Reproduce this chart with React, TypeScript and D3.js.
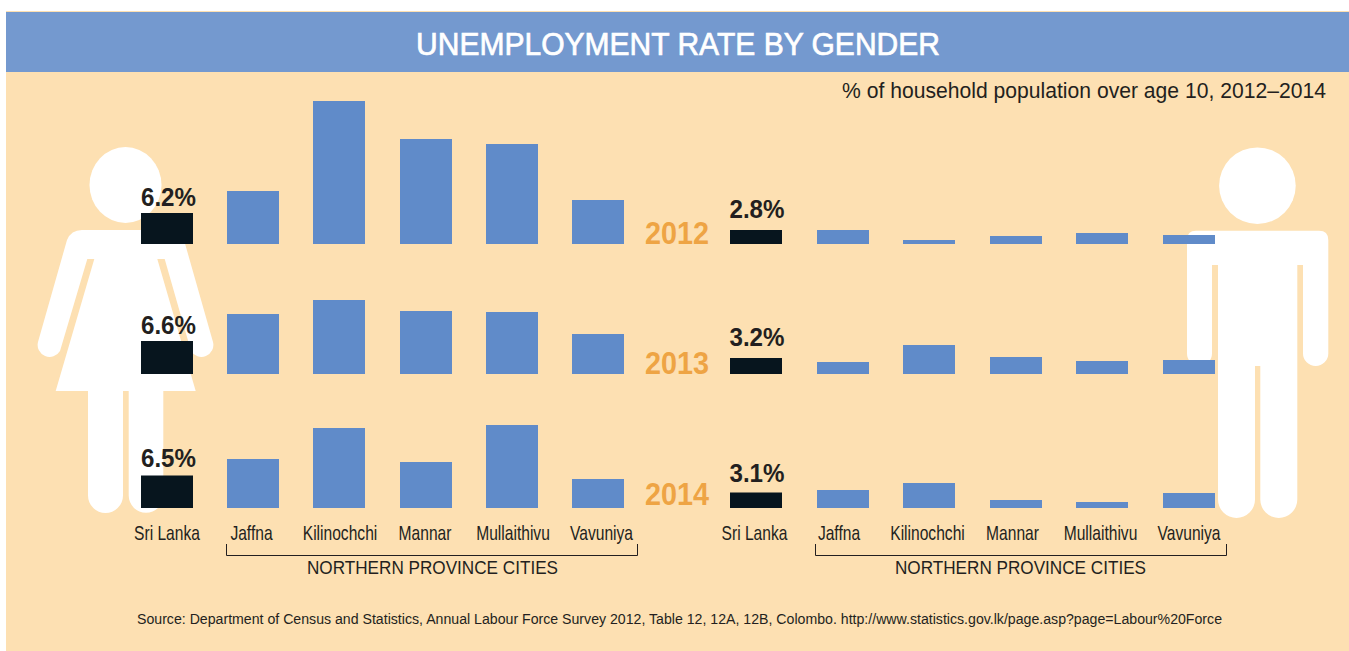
import React from "react";
import * as d3 from "d3";

const years = ["2012", "2013", "2014"];
const places = ["Sri Lanka", "Jaffna", "Kilinochchi", "Mannar", "Mullaithivu", "Vavuniya"];

// Rates in percent, one list per year, in the order of `places`.
const women2012 = [6.2, 10.6, 28.6, 21, 20, 8.8];
const women2013 = [6.6, 12, 14.8, 12.6, 12.4, 8];
const women2014 = [6.5, 9.8, 16, 9.2, 16.6, 5.8];
const men2012 = [2.8, 2.8, 0.8, 1.6, 2.2, 1.8];
const men2013 = [3.2, 2.4, 5.8, 3.4, 2.6, 2.8];
const men2014 = [3.1, 3.6, 5, 1.6, 1.2, 3];

const women = [women2012, women2013, women2014];
const men = [men2012, men2013, men2014];

const SANS = "'Liberation Sans', Arial, sans-serif";
const PANEL = "#FDE0B2";
const HEADER = "#7499CF";
const BAR = "#608BC9";
const NATIONAL = "#07151E";
const YEAR = "#EEA444";
const INK = "#231F20";

const baselines = [244, 374, 508];
const yearBaselines = [244, 374, 505];
const womenValueY = [206, 334, 467];
const menValueY = [218, 346, 482];
const labelNudge = [0, -2.4, -0.8, -2.7, -1.6, 0];

const height = d3.scaleLinear().domain([0, 1]).range([0, 5]);

const womanBody =
  "M82 230H169Q180 230 184 240L213 342A12 12 0 0 1 191 351L164.7 259H157.3L195.7 391H55.7L94.3 259H87.3L60 351A12 12 0 0 1 38 342L67 240Q71 230 82 230Z" +
  "M88 385H123V495.5A17.5 17.5 0 0 1 88 495.5Z" +
  "M128.7 385H163.3V495.5A17.3 17.3 0 0 1 128.7 495.5Z";

const manBody =
  "M1196 230.700H1319Q1328.300 230.700 1328.300 240V353.400A12.650 12.650 0 0 1 1303 353.400V265H1297.300V499.500A18.500 18.500 0 0 1 1260.300 499.500V366H1255V499.500A18.500 18.500 0 0 1 1218 499.500V265H1212V353.400A12.500 12.500 0 0 1 1187 353.400V240Q1187 230.700 1196 230.700Z";

type SideProps = {
  rows: number[][];
  barRange: [number, number];
  labelRange: [number, number];
  valueX: number;
  bracket: [number, number];
  captionX: number;
};

function Side({ rows, barRange, labelRange, valueX, bracket, captionX }: SideProps) {
  const x = d3.scaleBand<string>().domain(places).range(barRange).paddingInner(0.398);
  const labelX = d3.scalePoint<string>().domain(places).range(labelRange);
  const valueYs = rows === women ? womenValueY : menValueY;
  return (
    <g>
      {rows.map((row, r) => (
        <g key={years[r]}>
          {row.map((v, i) => (
            <rect
              key={places[i]}
              x={Math.floor(x(places[i])!)}
              y={baselines[r] - height(v)}
              width={Math.round(x.bandwidth())}
              height={height(v)}
              fill={i === 0 ? NATIONAL : BAR}
            />
          ))}
          <text
            x={valueX}
            y={valueYs[r]}
            fontFamily={SANS}
            fontWeight={700}
            fontSize={26}
            textAnchor="middle"
            textLength={55}
            lengthAdjust="spacingAndGlyphs"
            fill={INK}
          >
            {`${row[0].toFixed(1)}%`}
          </text>
        </g>
      ))}
      {places.map((p, i) => (
        <text
          key={p}
          transform={`translate(${labelX(p)! + labelNudge[i]},540) scale(0.78,1)`}
          fontFamily={SANS}
          fontSize={20}
          textAnchor="middle"
          fill={INK}
        >
          {p}
        </text>
      ))}
      <path
        d={`M${bracket[0]} 544V555.500H${bracket[1]}V544`}
        fill="none"
        stroke={INK}
        strokeWidth={1}
      />
      <text
        x={captionX}
        y={574}
        fontFamily={SANS}
        fontSize={18}
        textLength={251}
        lengthAdjust="spacingAndGlyphs"
        fill={INK}
      >
        NORTHERN PROVINCE CITIES
      </text>
    </g>
  );
}

export default function App() {
  return (
    <svg
      width={1349}
      height={651}
      style={{ position: "absolute", left: 0, top: 0, background: "#fff" }}
    >
      <rect x={6} y={11} width={1343} height={640} fill={PANEL} />
      <rect x={6} y={12} width={1343} height={60} fill={HEADER} />
      <text
        x={416}
        y={55}
        fontFamily={SANS}
        fontSize={32}
        textLength={524}
        lengthAdjust="spacingAndGlyphs"
        fill="#fff"
        stroke="#fff"
        strokeWidth={0.7}
      >
        UNEMPLOYMENT RATE BY GENDER
      </text>
      <text
        x={842}
        y={98}
        fontFamily={SANS}
        fontSize={22}
        textLength={484}
        lengthAdjust="spacingAndGlyphs"
        fill={INK}
      >
        % of household population over age 10, 2012–2014
      </text>

      {/* Pictogram figures sit behind the bars */}
      <ellipse cx={125.5} cy={185} rx={36} ry={38} fill="#fff" />
      <path d={womanBody} fill="#fff" />
      <circle cx={1257.4} cy={185.700} r={38.300} fill="#fff" />
      <path d={manBody} fill="#fff" />

      <Side
        rows={women}
        barRange={[141, 625]}
        labelRange={[167, 601.5]}
        valueX={168.5}
        bracket={[226.5, 637.5]}
        captionX={307}
      />
      <Side
        rows={men}
        barRange={[730.6, 1215.1]}
        labelRange={[754.5, 1189]}
        valueX={757}
        bracket={[815.5, 1226.5]}
        captionX={895}
      />

      {years.map((y, i) => (
        <text
          key={y}
          x={645}
          y={yearBaselines[i]}
          fontFamily={SANS}
          fontWeight={700}
          fontSize={32}
          textLength={64}
          lengthAdjust="spacingAndGlyphs"
          fill={YEAR}
        >
          {y}
        </text>
      ))}

      <text
        x={137}
        y={624}
        fontFamily={SANS}
        fontSize={14}
        textLength={1085}
        lengthAdjust="spacingAndGlyphs"
        fill={INK}
      >
        Source: Department of Census and Statistics, Annual Labour Force Survey 2012, Table 12, 12A, 12B, Colombo. http://www.statistics.gov.lk/page.asp?page=Labour%20Force
      </text>
    </svg>
  );
}
